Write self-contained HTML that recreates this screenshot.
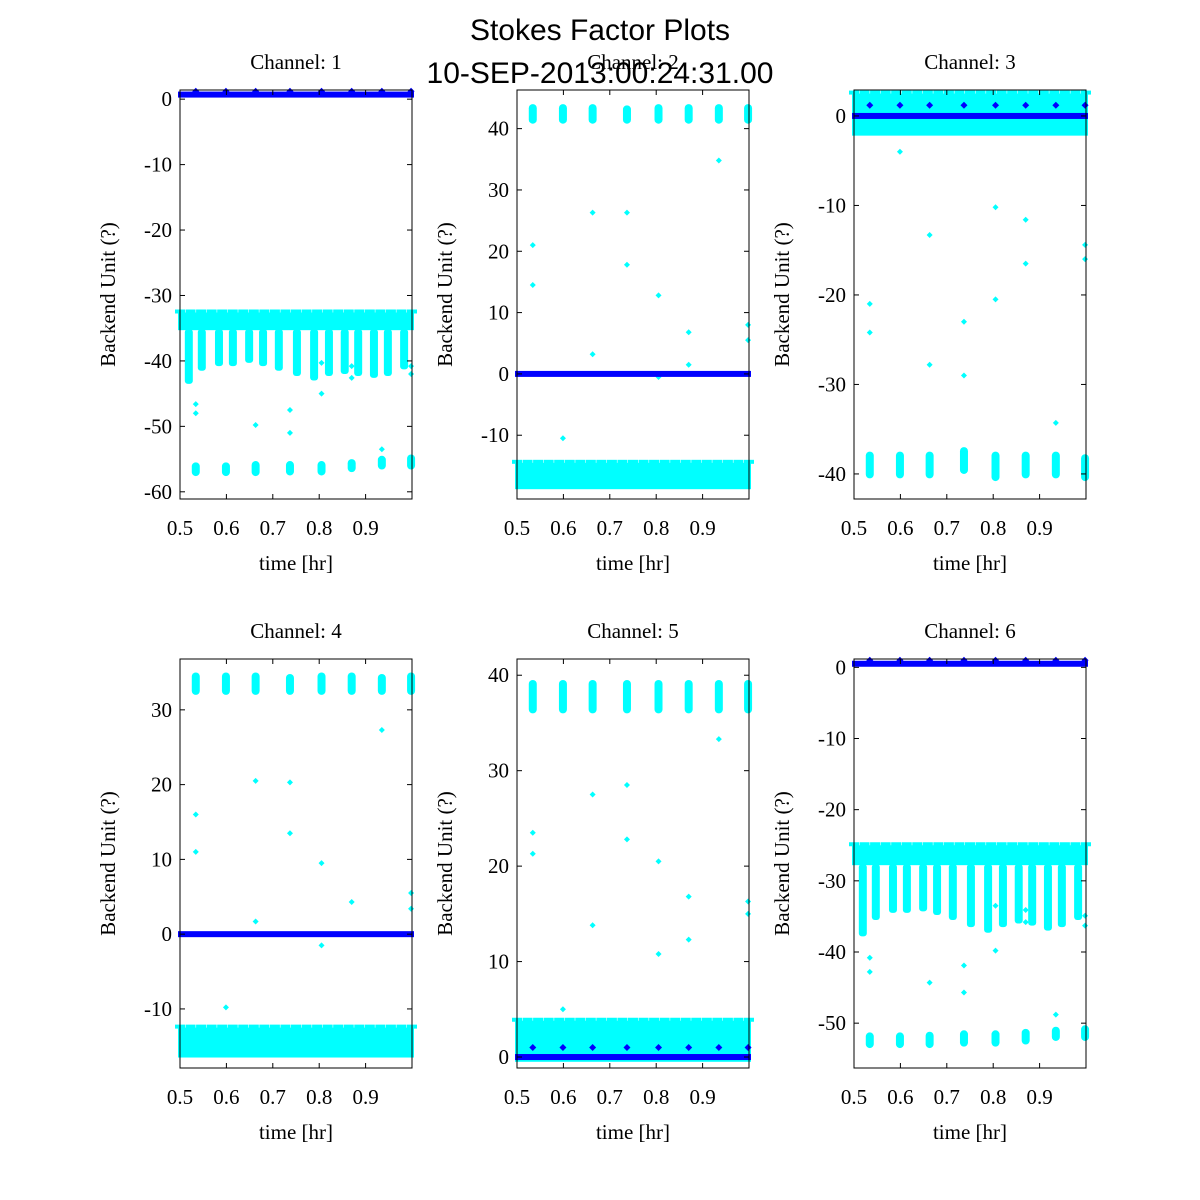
<!DOCTYPE html>
<html><head><meta charset="utf-8"><style>
html,body{margin:0;padding:0;background:#fff;}
svg{display:block;}
text{font-family:"Liberation Serif",serif;font-size:21px;fill:#000;}
.sans{font-family:"Liberation Sans",sans-serif;font-size:30px;}
</style></head><body>
<svg id="chart" width="1200" height="1200" viewBox="0 0 1200 1200">
<text class="sans" x="600" y="40" text-anchor="middle">Stokes Factor Plots</text>
<text class="sans" x="600" y="83" text-anchor="middle">10-SEP-2013:00:24:31.00</text>
</svg>
<script>
// shared x tick data
const xTicks = [0.5, 0.6, 0.7, 0.8, 0.9];
const clusterX = [0.534, 0.599, 0.663, 0.737, 0.805, 0.870, 0.935, 0.998];
const dipX = [0.519,0.547,0.584,0.614,0.649,0.679,0.713,0.752,0.789,0.821,0.855,0.884,0.918,0.948,0.983];
const markerX = [0.534,0.599,0.663,0.737,0.805,0.870,0.935,0.998];

// Channel 1
const ch1YTicks = [0,-10,-20,-30,-40,-50,-60];
const ch1Band = [-35.3,-32.6];
const ch1DipMin = [-43.5,-41.5,-40.8,-40.8,-40.3,-40.8,-41.5,-42.3,-43,-42.3,-42,-42.3,-42.6,-42.3,-41.3];
const ch1ClusterLo = [-57.6,-57.6,-57.6,-57.5,-57.5,-57,-56.6,-56.6];
const ch1ClusterHi = [-55.5,-55.5,-55.3,-55.3,-55.3,-55,-54.5,-54.3];
const ch1OutX = [0.534,0.534,0.663,0.737,0.737,0.805,0.805,0.870,0.870,0.935,0.998,0.998];
const ch1OutY = [-46.6,-48,-49.8,-47.5,-51,-40.3,-45,-40.8,-42.6,-53.5,-40.8,-42];
const ch1Blue = 0.7, ch1BlueMark = 1.2;

// Channel 2
const ch2YTicks = [40,30,20,10,0,-10];
const ch2Band = [-18.8,-14.5];
const ch2DipMin = [];
const ch2ClusterLo = [40.8,40.8,40.8,40.8,40.8,40.8,40.8,40.8];
const ch2ClusterHi = [44,44,44,43.8,44,44,44,44];
const ch2OutX = [0.534,0.534,0.599,0.663,0.663,0.737,0.737,0.805,0.805,0.870,0.870,0.935,0.998,0.998];
const ch2OutY = [21,14.5,-10.5,26.3,3.2,26.3,17.8,12.8,-0.5,6.8,1.5,34.8,8,5.5];
const ch2Blue = 0, ch2BlueMark = 0;

// Channel 3
const ch3YTicks = [0,-10,-20,-30,-40];
const ch3Band = [-2.2,2.5];
const ch3DipMin = [];
const ch3ClusterLo = [-40.5,-40.5,-40.5,-40,-40.8,-40.5,-40.5,-40.8];
const ch3ClusterHi = [-37.5,-37.5,-37.5,-37,-37.5,-37.5,-37.5,-37.8];
const ch3OutX = [0.534,0.534,0.599,0.663,0.663,0.737,0.737,0.805,0.805,0.870,0.870,0.935,0.998,0.998];
const ch3OutY = [-21,-24.2,-4,-13.3,-27.8,-23,-29,-10.2,-20.5,-11.6,-16.5,-34.3,-14.4,-16];
const ch3Blue = 0, ch3BlueMark = 1.2;

// Channel 4
const ch4YTicks = [30,20,10,0,-10];
const ch4Band = [-16.5,-12.5];
const ch4DipMin = [];
const ch4ClusterLo = [32,32,32,32,32,32,32,32];
const ch4ClusterHi = [35,35,35,34.8,35,35,34.8,35];
const ch4OutX = [0.534,0.534,0.599,0.663,0.663,0.737,0.737,0.805,0.805,0.870,0.935,0.998,0.998];
const ch4OutY = [16,11,-9.8,20.5,1.7,20.3,13.5,9.5,-1.5,4.3,27.3,5.5,3.4];
const ch4Blue = 0, ch4BlueMark = 0;

// Channel 5
const ch5YTicks = [40,30,20,10,0];
const ch5Band = [-0.5,3.8];
const ch5DipMin = [];
const ch5ClusterLo = [36,36,36,36,36,36,36,36];
const ch5ClusterHi = [39.5,39.5,39.5,39.5,39.5,39.5,39.5,39.5];
const ch5OutX = [0.534,0.534,0.599,0.663,0.663,0.737,0.737,0.805,0.805,0.870,0.870,0.935,0.998,0.998];
const ch5OutY = [23.5,21.3,5,27.5,13.8,28.5,22.8,20.5,10.8,16.8,12.3,33.3,16.3,15];
const ch5Blue = 0, ch5BlueMark = 1.0;

// Channel 6
const ch6YTicks = [0,-10,-20,-30,-40,-50];
const ch6Band = [-27.8,-25];
const ch6DipMin = [-37.8,-35.5,-34.5,-34.5,-34.3,-34.8,-35.5,-36.5,-37.3,-36.5,-36,-36.3,-37,-36.5,-35.5];
const ch6ClusterLo = [-53.5,-53.5,-53.5,-53.3,-53.3,-53,-52.5,-52.5];
const ch6ClusterHi = [-51.3,-51.3,-51.2,-51,-51,-50.8,-50.5,-50.3];
const ch6OutX = [0.534,0.534,0.663,0.737,0.737,0.805,0.805,0.870,0.870,0.935,0.998,0.998];
const ch6OutY = [-40.8,-42.8,-44.3,-41.9,-45.7,-39.8,-33.5,-34.1,-35.8,-48.8,-34.9,-36.3];
const ch6Blue = 0.5, ch6BlueMark = 1.0;

const NS = 'http://www.w3.org/2000/svg';
const svg = document.getElementById('chart');
function mk(tag, attrs, parent){ const e=document.createElementNS(NS,tag); for(const k in attrs) e.setAttribute(k,attrs[k]); (parent||svg).appendChild(e); return e; }

const panels = [
 {n:1,L:180,R:412,T:90,B:499,ymin:-61.1,ymax:1.4,yt:ch1YTicks,band:ch1Band,dip:ch1DipMin,cl:ch1ClusterLo,ch:ch1ClusterHi,ox:ch1OutX,oy:ch1OutY,blue:ch1Blue,bm:ch1BlueMark},
 {n:2,L:517,R:749,T:90,B:499,ymin:-20.4,ymax:46.3,yt:ch2YTicks,band:ch2Band,dip:ch2DipMin,cl:ch2ClusterLo,ch:ch2ClusterHi,ox:ch2OutX,oy:ch2OutY,blue:ch2Blue,bm:ch2BlueMark},
 {n:3,L:854,R:1086,T:90,B:499,ymin:-42.8,ymax:2.9,yt:ch3YTicks,band:ch3Band,dip:ch3DipMin,cl:ch3ClusterLo,ch:ch3ClusterHi,ox:ch3OutX,oy:ch3OutY,blue:ch3Blue,bm:ch3BlueMark},
 {n:4,L:180,R:412,T:659,B:1068,ymin:-17.9,ymax:36.8,yt:ch4YTicks,band:ch4Band,dip:ch4DipMin,cl:ch4ClusterLo,ch:ch4ClusterHi,ox:ch4OutX,oy:ch4OutY,blue:ch4Blue,bm:ch4BlueMark},
 {n:5,L:517,R:749,T:659,B:1068,ymin:-1.15,ymax:41.7,yt:ch5YTicks,band:ch5Band,dip:ch5DipMin,cl:ch5ClusterLo,ch:ch5ClusterHi,ox:ch5OutX,oy:ch5OutY,blue:ch5Blue,bm:ch5BlueMark},
 {n:6,L:854,R:1086,T:659,B:1068,ymin:-56.3,ymax:1.17,yt:ch6YTicks,band:ch6Band,dip:ch6DipMin,cl:ch6ClusterLo,ch:ch6ClusterHi,ox:ch6OutX,oy:ch6OutY,blue:ch6Blue,bm:ch6BlueMark}
];

panels.forEach(p=>{
  const xs = v => p.L + (v-0.5)/0.5*(p.R-p.L);
  const ys = v => p.B - (v-p.ymin)/(p.ymax-p.ymin)*(p.B-p.T);
  const g = mk('g',{});
  
  
  const cx = (p.L+p.R)/2;
  const t = mk('text',{x:cx,y:p.T-21,'text-anchor':'middle'},g); t.textContent='Channel: '+p.n;
  
  
  const data = mk('g',{fill:'#00ffff'},g);
  
  
  // main band
  const b = mk('rect',{x:xs(0.5)-2,y:ys(p.band[1]),width:xs(1.0)-xs(0.5)+4,height:ys(p.band[0])-ys(p.band[1])},data);
  
  
  // bumps on band top
  for(let i=0;i<23;i++){
    const bx = 0.5+i*0.5/22;
    const bump = mk('rect',{x:xs(bx)-5,y:ys(p.band[1])-3,width:10,height:4},data);
    
    
  }
  // dips
  p.dip.forEach((m,i)=>{
    const d = mk('rect',{x:xs(dipX[i])-4,y:ys(p.band[0])-1,width:8,height:ys(m)-ys(p.band[0])+1,rx:3},data);
    
    
  });
  // clusters
  p.cl.forEach((lo,i)=>{
    const c = mk('rect',{x:xs(clusterX[i])-4,y:ys(p.ch[i]),width:8,height:ys(lo)-ys(p.ch[i]),rx:4},data);
    
    
  });
  // outliers
  p.ox.forEach((x,i)=>{
    const px=xs(x), py=ys(p.oy[i]);
    const o = mk('path',{d:`M${px-3},${py}L${px},${py-3}L${px+3},${py}L${px},${py+3}Z`},data);
    
    
  });
  // blue series
  const bl = mk('rect',{x:xs(0.5)-2,y:ys(p.blue)-3,width:xs(1.0)-xs(0.5)+4,height:6,fill:'#0000ff'},g);
  
  
  if(p.bm!==0){
    markerX.forEach(x=>{
      const px=xs(x), py=ys(p.bm);
      const m = mk('path',{d:`M${px-3.5},${py}L${px},${py-3.5}L${px+3.5},${py}L${px},${py+3.5}Z`,fill:'#0000ff'},g);
      
      
    });
  }
  // frame
  const f = mk('rect',{x:p.L,y:p.T,width:p.R-p.L,height:p.B-p.T,fill:'none',stroke:'#000','stroke-width':1},g);
  
  
  // y ticks
  p.yt.forEach(v=>{
    const y=ys(v);
    mk('line',{x1:p.L,x2:p.L+5,y1:y,y2:y,stroke:'#000'},g);
    mk('line',{x1:p.R,x2:p.R-5,y1:y,y2:y,stroke:'#000'},g);
    const tl = mk('text',{x:p.L-8,y:y+7,'text-anchor':'end'},g); tl.textContent=String(v);
    
    
  });
  // x ticks
  xTicks.forEach(v=>{
    const x=xs(v);
    mk('line',{x1:x,x2:x,y1:p.B,y2:p.B-5,stroke:'#000'},g);
    mk('line',{x1:x,x2:x,y1:p.T,y2:p.T+5,stroke:'#000'},g);
    const tl = mk('text',{x:x,y:p.B+36,'text-anchor':'middle'},g); tl.textContent=String(v);
    
    
  });
  const xl = mk('text',{x:cx,y:p.B+71,'text-anchor':'middle'},g); xl.textContent='time [hr]';
  
  
  const ly=(p.T+p.B)/2, lx=p.L-65;
  const yl = mk('text',{x:lx,y:ly,'text-anchor':'middle',transform:`rotate(-90 ${lx} ${ly})`},g); yl.textContent='Backend Unit (?)';
  
  
});
</script>
</body></html>
